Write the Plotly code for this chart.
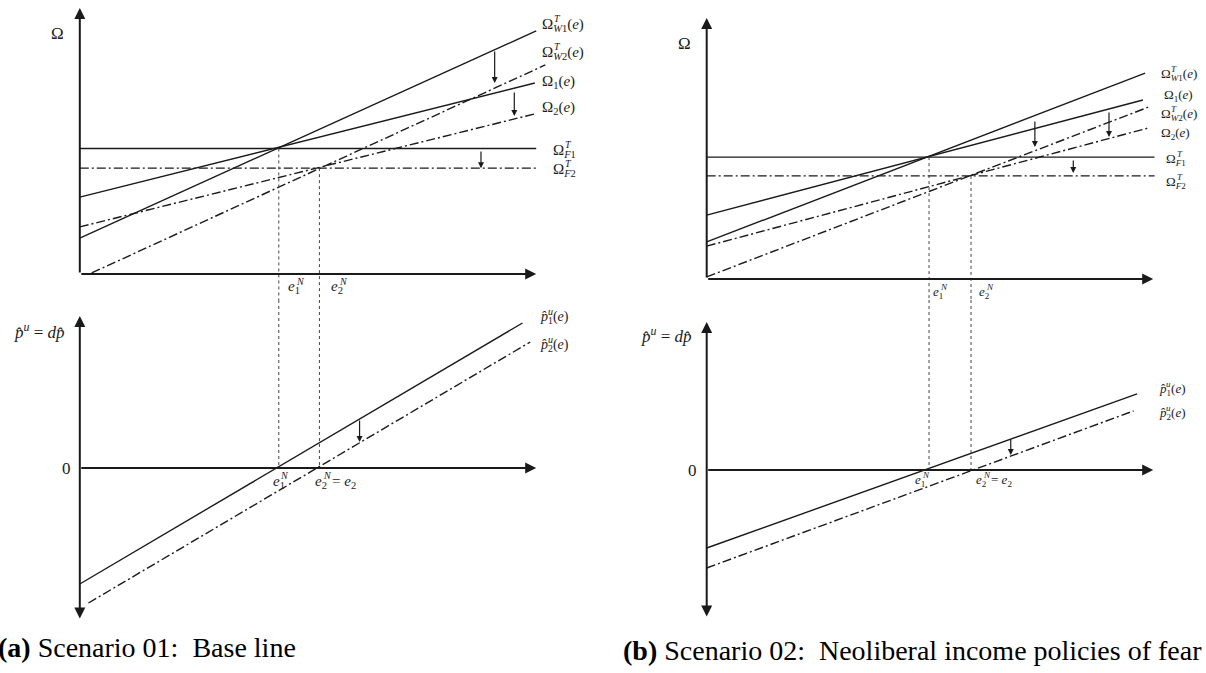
import plotly.graph_objects as go

W, H = 1206, 673

# ---------------- data (schematic units: axis tip = 10) ----------------
# Scenario 01 (a) - upper panel: Omega curves, endpoints in e and value
a_e_W1 = [0.0, 10.0];  a_W1 = [1.35, 9.14]
a_e_W2 = [0.26, 10.2]; a_W2 = [0.04, 7.86]
a_e_O1 = [0.0, 9.97];  a_O1 = [2.89, 7.18]
a_e_O2 = [0.0, 9.97];  a_O2 = [1.77, 6.02]
a_e_F = [0.0, 10.0];   a_F1 = 4.72; a_F2 = 3.98
a_eN = [4.36, 5.25]
# vertical shift arrows: e, from, to
a_arrows_top = [(9.09, 8.42, 7.18), (9.52, 6.88, 5.94), (8.79, 4.66, 3.98)]
# (a) lower panel: price inflation lines
a_e_p1 = [0.0, 9.70];  a_p1 = [-7.63, 9.54]
a_e_p2 = [0.19, 9.87]; a_p2 = [-8.88, 8.29]
a_arrows_bot = [(6.13, 3.22, 1.71)]

# Scenario 02 (b) - upper panel
b_e_W1 = [0.0, 9.82];  b_W1 = [1.42, 7.89]
b_e_O1 = [0.0, 9.77];  b_O1 = [2.45, 6.86]
b_e_W2 = [0.0, 9.90];  b_W2 = [0.08, 6.59]
b_e_O2 = [0.0, 9.90];  b_O2 = [1.26, 5.79]
b_e_F = [0.0, 10.03];  b_F1 = 4.67; b_F2 = 3.95
b_eN = [4.98, 5.92]
b_arrows_top = [(7.35, 6.09, 5.06), (9.01, 6.44, 5.44), (8.21, 4.60, 4.06)]
# (b) lower panel
b_e_p1 = [0.0, 9.64];  b_p1 = [-5.27, 5.14]
b_e_p2 = [0.0, 9.56];  b_p2 = [-6.62, 3.99]
b_arrows_bot = [(6.81, 2.16, 1.01)]

captions = ["<b>(a)</b> Scenario 01:  Base line",
            "<b>(b)</b> Scenario 02:  Neoliberal income policies of fear"]

# ---------------- layout calibration (pixels) ----------------
# per panel: x-domain px, y-domain px, origin px (x,y), px per unit (x,y)
panels = {
    "a_top": dict(xd=(0, 603), yd=(0, 300), ox=79.8, oy=274, ux=45.64, uy=26.6),
    "a_bot": dict(xd=(0, 603), yd=(300, 673), ox=79.8, oy=468, ux=45.64, uy=15.2),
    "b_top": dict(xd=(603, 1206), yd=(0, 300), ox=706.7, oy=279, ux=44.65, uy=26.1),
    "b_bot": dict(xd=(603, 1206), yd=(300, 673), ox=706.7, oy=470, ux=44.65, uy=14.8),
}
axis_ids = {"a_top": "", "a_bot": "2", "b_top": "3", "b_bot": "4"}

fig = go.Figure()
layout_axes = {}
yranges = {}
for k, p in panels.items():
    i = axis_ids[k]
    xr = [(p["xd"][0] - p["ox"]) / p["ux"], (p["xd"][1] - p["ox"]) / p["ux"]]
    yr = [(p["oy"] - p["yd"][1]) / p["uy"], (p["oy"] - p["yd"][0]) / p["uy"]]
    yranges[k] = yr
    layout_axes["xaxis" + i] = dict(domain=[p["xd"][0] / W, p["xd"][1] / W], range=xr,
                                    visible=False, anchor="y" + i, fixedrange=True)
    layout_axes["yaxis" + i] = dict(domain=[1 - p["yd"][1] / H, 1 - p["yd"][0] / H], range=yr,
                                    visible=False, anchor="x" + i, fixedrange=True)

INK = "#1a1a1a"
DASHDOT = "9px,3px,2px,3px"


def line(k, xs, ys, dash="solid", width=1.4, color=INK):
    i = axis_ids[k]
    fig.add_trace(go.Scatter(x=xs, y=ys, mode="lines", xaxis="x" + i, yaxis="y" + i,
                             line=dict(color=color, width=width, dash=dash),
                             hoverinfo="skip", showlegend=False))


annotations = []


def arrow(k, x0, y0, x1, y1, width=1.2, size=1.0, both=False, head=2):
    i = axis_ids[k]
    annotations.append(dict(x=x1, y=y1, ax=x0, ay=y0, xref="x" + i, yref="y" + i,
                            axref="x" + i, ayref="y" + i, text="", showarrow=True,
                            arrowhead=head, startarrowhead=head, arrowsize=size,
                            startarrowsize=size, arrowwidth=width, arrowcolor=INK,
                            arrowside="end+start" if both else "end",
                            standoff=0, startstandoff=0))


FONT = "Liberation Serif"


def text(k, x, y, s, size=13, xanchor="left", yanchor="middle", xshift=0, yshift=0):
    i = axis_ids[k]
    annotations.append(dict(x=x, y=y, xref="x" + i, yref="y" + i, text=s, showarrow=False,
                            xanchor=xanchor, yanchor=yanchor, xshift=xshift, yshift=yshift,
                            font=dict(family=FONT, size=size, color=INK)))


def stacked(k, x, y, base, sup, sub, suffix, size=13, base_w=0.75, tail=None, tail_dx=0):
    # base symbol with a subscript, and the superscript stacked above the subscript
    text(k, x, y, base + "<sub>" + sub + "</sub>" + suffix, size=size)
    text(k, x, y, sup, size=round(size * 0.68), xshift=base_w * size + 1, yshift=size * 0.42)
    if tail:
        text(k, x, y, tail, size=size, xshift=tail_dx)


# ---------------- panel (a) top ----------------
k = "a_top"
line(k, a_e_W1, a_W1)
line(k, a_e_O1, a_O1)
line(k, a_e_W2, a_W2, DASHDOT)
line(k, a_e_O2, a_O2, DASHDOT)
line(k, a_e_F, [a_F1, a_F1])
line(k, a_e_F, [a_F2, a_F2], DASHDOT)
line(k, [a_eN[0], a_eN[0]], [a_F1, yranges[k][0]], "dot", 1, "#444")
line(k, [a_eN[1], a_eN[1]], [a_F2, yranges[k][0]], "dot", 1, "#444")
arrow(k, 0, 0, 0, 10, width=2, size=1.1)
arrow(k, 0, 0, 10, 0, width=2, size=1.1)
for e, v0, v1 in a_arrows_top:
    arrow(k, e, v0, e, v1)
text(k, -0.49, 9.06, "Ω", size=17, xanchor="center")
stacked(k, 10.08, 9.36, "Ω", "<i>T</i>", "<i>W</i>1", "(<i>e</i>)", size=15)
stacked(k, 10.08, 8.31, "Ω", "<i>T</i>", "<i>W</i>2", "(<i>e</i>)", size=15)
text(k, 10.08, 7.22, "Ω<sub>1</sub>(<i>e</i>)", size=15)
text(k, 10.08, 6.24, "Ω<sub>2</sub>(<i>e</i>)", size=15)
stacked(k, 10.32, 4.62, "Ω", "<i>T</i>", "<i>F</i>1", "", size=15)
stacked(k, 10.32, 3.92, "Ω", "<i>T</i>", "<i>F</i>2", "", size=15)
stacked(k, 4.52, -0.50, "<i>e</i>", "<i>N</i>", "1", "", size=15, base_w=0.45)
stacked(k, 5.47, -0.50, "<i>e</i>", "<i>N</i>", "2", "", size=15, base_w=0.45)

# ---------------- panel (a) bottom ----------------
k = "a_bot"
line(k, a_e_p1, a_p1)
line(k, a_e_p2, a_p2, DASHDOT)
line(k, [a_eN[0], a_eN[0]], [yranges[k][1], 0], "dot", 1, "#444")
line(k, [a_eN[1], a_eN[1]], [yranges[k][1], 0], "dot", 1, "#444")
arrow(k, 0, -10, 0, 10, width=2, size=1.1, both=True)
arrow(k, 0, 0, 10, 0, width=2, size=1.1)
for e, v0, v1 in a_arrows_bot:
    arrow(k, e, v0, e, v1)
text(k, -0.29, 0, "0", size=17, xanchor="center")
text(k, -0.88, 9.0, "<i>p̂</i><sup><i>u</i></sup> = <i>d</i><i>p̂</i>", size=17, xanchor="center")
stacked(k, 10.05, 9.93, "<i>p̂</i>", "<i>u</i>", "1", "(<i>e</i>)", size=14, base_w=0.5)
stacked(k, 10.05, 8.09, "<i>p̂</i>", "<i>u</i>", "2", "(<i>e</i>)", size=14, base_w=0.5)
stacked(k, 4.18, -0.90, "<i>e</i>", "<i>N</i>", "1", "", size=15, base_w=0.45)
stacked(k, 5.12, -0.90, "<i>e</i>", "<i>N</i>", "2", "", size=15, base_w=0.45,
        tail="= <i>e</i><sub>2</sub>", tail_dx=17)

# ---------------- panel (b) top ----------------
k = "b_top"
line(k, b_e_W1, b_W1)
line(k, b_e_O1, b_O1)
line(k, b_e_W2, b_W2, DASHDOT)
line(k, b_e_O2, b_O2, DASHDOT)
line(k, b_e_F, [b_F1, b_F1])
line(k, b_e_F, [b_F2, b_F2], DASHDOT)
line(k, [b_eN[0], b_eN[0]], [b_F1, yranges[k][0]], "dot", 1, "#444")
line(k, [b_eN[1], b_eN[1]], [b_F2, yranges[k][0]], "dot", 1, "#444")
arrow(k, 0, 0, 0, 10, width=2, size=1.1)
arrow(k, 0, 0, 10, 0, width=2, size=1.1)
for e, v0, v1 in b_arrows_top:
    arrow(k, e, v0, e, v1)
text(k, -0.49, 9.04, "Ω", size=17, xanchor="center")
stacked(k, 10.12, 7.82, "Ω", "<i>T</i>", "<i>W</i>1", "(<i>e</i>)", size=13)
text(k, 10.2, 7.05, "Ω<sub>1</sub>(<i>e</i>)", size=13)
stacked(k, 10.12, 6.32, "Ω", "<i>T</i>", "<i>W</i>2", "(<i>e</i>)", size=13)
text(k, 10.12, 5.59, "Ω<sub>2</sub>(<i>e</i>)", size=13)
stacked(k, 10.25, 4.58, "Ω", "<i>T</i>", "<i>F</i>1", "", size=13)
stacked(k, 10.25, 3.70, "Ω", "<i>T</i>", "<i>F</i>2", "", size=13)
stacked(k, 5.03, -0.50, "<i>e</i>", "<i>N</i>", "1", "", size=13, base_w=0.45)
stacked(k, 6.06, -0.50, "<i>e</i>", "<i>N</i>", "2", "", size=13, base_w=0.45)

# ---------------- panel (b) bottom ----------------
k = "b_bot"
line(k, b_e_p1, b_p1)
line(k, b_e_p2, b_p2, DASHDOT)
line(k, [b_eN[0], b_eN[0]], [yranges[k][1], 0], "dot", 1, "#444")
line(k, [b_eN[1], b_eN[1]], [yranges[k][1], 0], "dot", 1, "#444")
arrow(k, 0, -10, 0, 10, width=2, size=1.1, both=True)
arrow(k, 0, 0, 10, 0, width=2, size=1.1)
for e, v0, v1 in b_arrows_bot:
    arrow(k, e, v0, e, v1)
text(k, -0.31, 0, "0", size=17, xanchor="center")
text(k, -0.91, 9.1, "<i>p̂</i><sup><i>u</i></sup> = <i>d</i><i>p̂</i>", size=17, xanchor="center")
stacked(k, 10.08, 5.47, "<i>p̂</i>", "<i>u</i>", "1", "(<i>e</i>)", size=13, base_w=0.5)
stacked(k, 10.08, 3.85, "<i>p̂</i>", "<i>u</i>", "2", "(<i>e</i>)", size=13, base_w=0.5)
stacked(k, 4.62, -0.72, "<i>e</i>", "<i>N</i>", "1", "", size=13, base_w=0.45)
stacked(k, 5.98, -0.72, "<i>e</i>", "<i>N</i>", "2", "", size=13, base_w=0.45,
        tail="= <i>e</i><sub>2</sub>", tail_dx=15)

# ---------------- captions ----------------
annotations.append(dict(x=-4 / W, y=1 - 647 / H, xref="paper", yref="paper", text=captions[0],
                        showarrow=False, xanchor="left", yanchor="middle",
                        font=dict(family=FONT, size=28, color="black")))
annotations.append(dict(x=621 / W, y=1 - 650 / H, xref="paper", yref="paper", text=captions[1],
                        showarrow=False, xanchor="left", yanchor="middle",
                        font=dict(family=FONT, size=28, color="black")))

fig.update_layout(width=W, height=H, autosize=False,
                  margin=dict(l=0, r=0, t=0, b=0, pad=0),
                  paper_bgcolor="white", plot_bgcolor="white",
                  showlegend=False, annotations=annotations, **layout_axes)

fig.write_html("out.html", config={"displayModeBar": False})
